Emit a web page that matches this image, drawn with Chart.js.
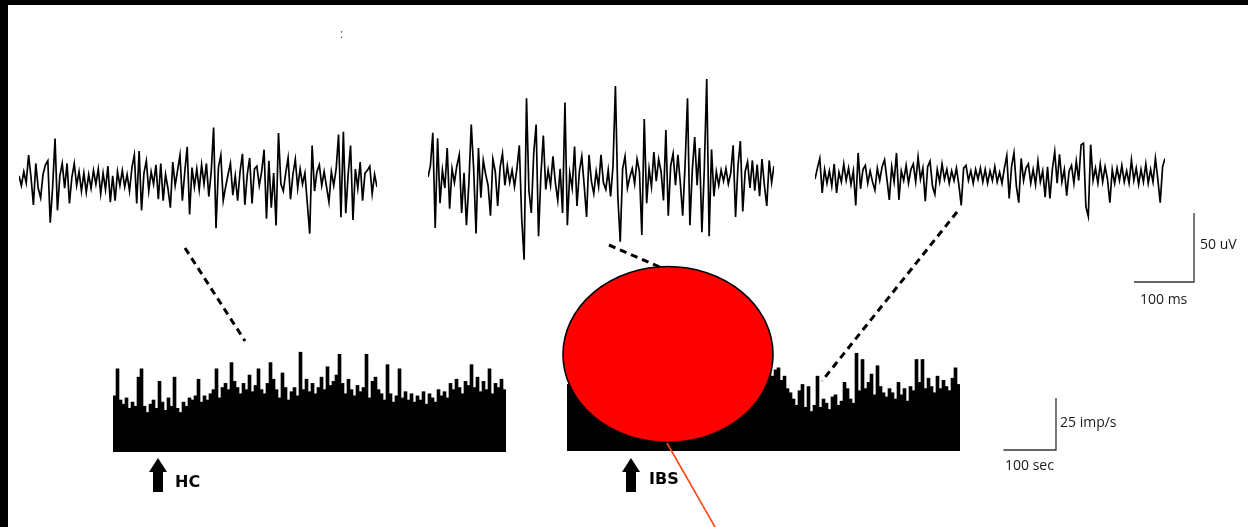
<!DOCTYPE html>
<html>
<head>
<meta charset="utf-8">
<script src="https://cdn.jsdelivr.net/npm/chart.js@4"></script>
<style>
  html, body { margin: 0; padding: 0; background: #fff; }
  #stage { position: relative; width: 1248px; height: 527px; overflow: hidden; background: #fff; }
  .edgeTop { position: absolute; left: 0; top: 0; width: 1248px; height: 5px; background: #000; z-index: 5; }
  .edgeLeft { position: absolute; left: 0; top: 0; width: 8px; height: 527px; background: #000; z-index: 5; }
  canvas { position: absolute; }
  #marks { position: absolute; left: 0; top: 0; z-index: 3; }
  .lbl { position: absolute; font-family: "Open Sans", sans-serif; font-size: 14px; color: #1a1a1a; white-space: nowrap; line-height: 14px; z-index: 4; }
  .tag { position: absolute; font-family: "DejaVu Sans", sans-serif; font-weight: bold; font-size: 16px; color: #000; white-space: nowrap; line-height: 16px; z-index: 4; }
</style>
</head>
<body>
<div id="stage">
  <div class="edgeTop"></div>
  <div class="edgeLeft"></div>
  <canvas id="traceHC"></canvas>
  <canvas id="traceMid"></canvas>
  <canvas id="traceLate"></canvas>
  <canvas id="histHC"></canvas>
  <canvas id="histIBS"></canvas>
  <svg id="marks" width="1248" height="527" xmlns="http://www.w3.org/2000/svg"></svg>
  <div class="lbl" style="left:340px;top:27px;font-size:12px;color:#555;">:</div>
  <div class="lbl" style="left:1200px;top:237px;">50 uV</div>
  <div class="lbl" style="left:1140px;top:292px;">100 ms</div>
  <div class="lbl" style="left:1060px;top:415px;">25 imp/s</div>
  <div class="lbl" style="left:1005px;top:458px;">100 sec</div>
  <div class="tag" style="left:175px;top:474px;">HC</div>
  <div class="tag" style="left:649px;top:471px;">IBS</div>
</div>
<script>
// Raw multi-unit traces (uV), one sample every SAMPLE_MS
const SAMPLE_MS = 4;
const traceHC = [
  3, -4, 6, -2, 18, 2, -18, 12, -6, -13,
  4, 11, 14, -31, -5, 30, -22, 3, 12, -6,
  12, -17, 2, 12, -4, 6, -8, 5, -9, 4,
  -6, 7, -3, 8, -10, 5, -7, 10, -16, 3,
  -15, 6, -4, 7, -5, 4, -8, 9, 18, -17,
  21, -22, 5, 14, -8, 6, -3, 11, -14, 12,
  -15, 4, -6, -20, 13, -4, 7, 18, -15, 6,
  24, -25, 9, -5, 8, -7, 11, -3, 12, -12,
  6, 38, -35, 9, 18, -15, -5, 4, 12, -11,
  3, -15, 6, 19, -18, 4, 16, -17, 8, 10,
  -4, 6, 22, -28, 14, -20, 5, -33, 34, -3,
  -8, 5, 16, -14, 4, 15, -6, 8, -3, 5,
  -17, -39, 25, -8, 6, 11, -4, 6, -5, -16,
  6, -4, 8, 33, -27, 35, -24, 4, 25, -29,
  8, -6, 13, -15, 5, 7, 10, -10, 4, -5
];
const traceMid = [
  0, 8, 32, -37, 28, -19, 5, -8, 21, -23,
  6, -4, 8, 16, -26, 3, -35, -5, 38, 6,
  -41, 21, -15, 12, 2, -6, -28, 13, 4, -21,
  7, 17, -6, 8, -4, 5, -7, 6, 23, -30,
  -60, 57, -10, -26, 17, 38, -43, 2, 30, -9,
  5, -6, 15, -4, -17, 6, -26, 54, -35, 3,
  -8, 22, -21, 4, 15, -6, -29, 16, -3, -12,
  4, -7, 16, -4, -9, 5, -14, 8, 66, -14,
  -47, 6, 15, -8, 0, 6, -5, 13, 4, -42,
  42, -19, 6, -7, 18, -3, 13, 4, -17, 34,
  -28, 8, 17, -6, 16, -4, -28, 9, 57, -35,
  5, 29, -6, 21, -40, 6, 71, -43, 20, -14,
  4, -6, 5, -3, 6, -5, 3, 23, -29, 8,
  26, -25, 4, 11, -8, 12, -10, 9, -14, 13,
  -6, -21, 12, -4, 8
];
const traceLate = [
  -3, 5, 12, -13, 4, -6, 3, -8, 8, -13,
  2, -5, 8, -4, 5, -7, 3, -22, 16, -10,
  4, 7, -6, 3, -5, -11, 5, -4, 6, 11,
  -3, -18, 6, -5, 16, -18, 3, -4, 7, -6,
  4, 8, -5, 13, -3, 5, -19, 6, 10, -8,
  -14, 4, -5, 8, -3, 4, -6, 3, -4, 5,
  -7, -22, 5, 7, -4, 3, -6, 4, -3, 5,
  -5, 4, -6, 3, -4, 6, -5, 2, -6, 5,
  14, -17, 6, 16, -8, -20, 12, -4, 5, 8,
  -6, 4, -7, 10, -5, 3, -16, 6, -17, 4,
  17, -6, 15, -5, 4, -15, 3, 7, -6, 10,
  -4, 22, 23, -23, -30, 22, -4, 5, -6, 8,
  -5, 6, -3, -20, 4, -6, 5, -4, 7, -5,
  3, -6, 11, -4, 5, -7, 4, -5, 8, -6,
  4, -5, 12, -3, -20, 6, 12
];

// Firing-rate histograms (imp/s), one bin every BIN_SEC
const BIN_SEC = 5.7;
const rateHC = [
  27, 40, 25, 23, 26, 21, 24, 22, 36, 40,
  22, 19, 23, 25, 21, 34, 24, 20, 26, 22,
  36, 21, 19, 24, 22, 26, 25, 27, 35, 24,
  27, 25, 28, 30, 40, 26, 31, 33, 30, 43,
  34, 31, 28, 33, 30, 37, 29, 32, 40, 30,
  28, 33, 43, 35, 30, 26, 38, 31, 25, 29,
  31, 27, 48, 30, 35, 29, 33, 28, 31, 36,
  30, 41, 32, 34, 37, 47, 33, 28, 35, 30,
  27, 32, 29, 31, 47, 26, 34, 36, 30, 28,
  25, 42, 28, 24, 27, 40, 26, 29, 25, 28,
  24, 27, 25, 29, 23, 28, 26, 24, 30, 27,
  29, 26, 33, 30, 35, 31, 28, 34, 32, 42,
  31, 36, 29, 34, 30, 40, 28, 33, 31, 35, 30
];
const rateIBS = [
  32, 33, 31, 35, 30, 34, 38, 32, 36, 33,
  31, 37, 34, 40, 33, 35, 32, 38, 36, 34,
  39, 33, 35, 37, 31, 36, 42, 34, 33, 38,
  35, 32, 37, 34, 36, 41, 33, 35, 31, 38,
  34, 36, 32, 39, 35, 33, 37, 34, 40, 36,
  33, 38, 35, 32, 37, 34, 36, 39, 33, 35,
  38, 34, 32, 36, 37, 33, 35, 38, 36, 39,
  40, 34, 36, 30, 28, 25, 22, 29, 32, 21,
  31, 19, 22, 36, 21, 25, 23, 20, 26, 27,
  22, 24, 33, 30, 25, 23, 47, 29, 44, 30,
  33, 37, 27, 41, 31, 28, 26, 30, 28, 25,
  33, 27, 30, 24, 31, 29, 44, 33, 44, 30,
  35, 31, 28, 36, 30, 34, 31, 29, 35, 40, 32
];

// Scale-bar sizes
const BAR_UV = 50, BAR_MS = 100, BAR_RATE = 25, BAR_SEC = 100;

const PX_PER_MS = 0.6;       // horizontal sweep of the raw traces
const UV_RANGE = 72.5;       // half-height of each trace panel
const TRACE_H = 200;
const RATE_MAX = 52.9;
const HIST_H = 110;
const BIN_PX = 3;

const base = {
  animation: false, responsive: false, devicePixelRatio: 1, events: [],
  plugins: { legend: { display: false }, tooltip: { enabled: false } }
};

function place(canvas, left, top, w, h) {
  canvas.width = w; canvas.height = h;
  canvas.style.left = left + 'px'; canvas.style.top = top + 'px';
  canvas.style.width = w + 'px'; canvas.style.height = h + 'px';
}

function makeTrace(id, values, left, midY) {
  const pad = 2;
  const spanMs = (values.length - 1) * SAMPLE_MS;
  const w = Math.round(spanMs * PX_PER_MS) + 2 * pad;
  const cv = document.getElementById(id);
  place(cv, left - pad, midY - TRACE_H / 2, w, TRACE_H);
  return new Chart(cv, {
    type: 'line',
    data: { datasets: [{
      data: values.map((v, i) => ({ x: i * SAMPLE_MS, y: v })),
      borderColor: '#000', borderWidth: 1.7, pointRadius: 0,
      stepped: false, fill: false, tension: 0, borderJoinStyle: 'miter'
    }] },
    options: Object.assign({}, base, {
      layout: { padding: { left: pad, right: pad, top: 0, bottom: 0 } },
      scales: {
        x: { type: 'linear', display: false, min: 0, max: spanMs },
        y: { type: 'linear', display: false, min: -UV_RANGE, max: UV_RANGE }
      }
    })
  });
}

function makeHist(id, values, left, bottomY) {
  const cv = document.getElementById(id);
  place(cv, left, bottomY - HIST_H, values.length * BIN_PX, HIST_H);
  return new Chart(cv, {
    type: 'bar',
    data: {
      labels: values.map((_, i) => i),
      datasets: [{ data: values, backgroundColor: '#000', borderWidth: 0,
                   barPercentage: 1, categoryPercentage: 1 }]
    },
    options: Object.assign({}, base, {
      layout: { padding: 0 },
      scales: {
        x: { display: false, grid: { display: false } },
        y: { display: false, min: 0, max: RATE_MAX }
      }
    })
  });
}

const cHC = makeTrace('traceHC', traceHC, 19, 180);
const cMid = makeTrace('traceMid', traceMid, 428, 177);
const cLate = makeTrace('traceLate', traceLate, 815, 175);
const hHC = makeHist('histHC', rateHC, 113, 452);
const hIBS = makeHist('histIBS', rateIBS, 567, 451);

// Overlay: linking dashes, highlight ellipse, pointer, arrows and scale bars
const NS = 'http://www.w3.org/2000/svg';
const svg = document.getElementById('marks');
function el(name, attrs) {
  const e = document.createElementNS(NS, name);
  for (const k in attrs) e.setAttribute(k, attrs[k]);
  svg.appendChild(e);
  return e;
}
const dash = { stroke: '#000', 'stroke-width': 3, 'stroke-dasharray': '7 5', fill: 'none' };
el('line', Object.assign({ x1: 185, y1: 248, x2: 245, y2: 341 }, dash));
el('line', Object.assign({ x1: 609, y1: 245, x2: 662, y2: 268 }, dash));
el('line', Object.assign({ x1: 957, y1: 212, x2: 822, y2: 381 }, dash));

el('ellipse', { cx: 668, cy: 354.5, rx: 105, ry: 88, fill: '#ff0000', stroke: '#000', 'stroke-width': 1.6 });
el('line', { x1: 667, y1: 443, x2: 715, y2: 527, stroke: '#ff4512', 'stroke-width': 1.6 });

function arrow(cx) {
  el('polygon', { points: `${cx - 9},472 ${cx},458 ${cx + 9},472`, fill: '#000' });
  el('rect', { x: cx - 5, y: 471, width: 10, height: 21, fill: '#000' });
}
arrow(158);
arrow(631);

// Scale bars sized through the panels' own scales
function vLen(chart, v) { const s = chart.scales.y; return Math.abs(s.getPixelForValue(0) - s.getPixelForValue(v)); }
const uvPx = vLen(cLate, BAR_UV);
const msPx = Math.abs(cLate.scales.x.getPixelForValue(BAR_MS) - cLate.scales.x.getPixelForValue(0));
const ratePx = vLen(hIBS, BAR_RATE);
const secPx = (BAR_SEC / BIN_SEC) * BIN_PX;

const sb = { stroke: '#333', 'stroke-width': 1.3, fill: 'none' };
const c1x = 1194, c1y = 282;
el('polyline', Object.assign({ points: `${c1x - msPx},${c1y} ${c1x},${c1y} ${c1x},${c1y - uvPx}` }, sb));
const c2x = 1056, c2y = 450;
el('polyline', Object.assign({ points: `${c2x - secPx},${c2y} ${c2x},${c2y} ${c2x},${c2y - ratePx}` }, sb));
</script>
</body>
</html>
